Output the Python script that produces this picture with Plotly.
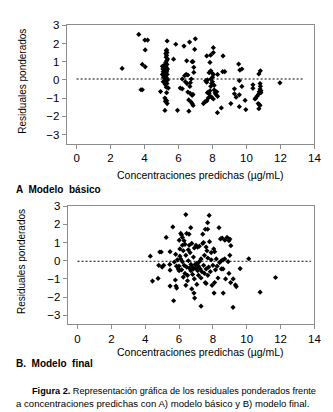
import plotly.graph_objects as go

# ---------------- data ----------------
top_x = [2.68, 3.66, 4.02, 4.18, 4.04, 3.87, 4.04, 3.79, 3.87,
         4.94, 5.05, 5.08, 5.10, 5.05, 5.12, 5.10, 5.15, 5.20, 5.18, 5.22, 5.20, 5.25, 5.22, 5.28, 5.30,
         5.20, 5.25, 5.30, 5.23, 5.33, 5.20,
         5.33, 5.30, 5.28, 5.32, 5.25, 5.30, 5.27, 5.35, 5.30, 5.25, 5.32, 5.28, 5.35, 5.30, 5.25, 5.33,
         5.30, 5.35, 5.28, 5.32, 5.40, 5.30, 5.22,
         5.71, 5.84, 5.94, 6.22, 6.22, 6.32, 6.36, 6.48, 6.55, 6.55, 6.65, 6.61, 6.80, 6.85, 6.90, 6.90,
         6.67, 6.80, 6.74, 6.86, 6.95, 6.99, 6.50, 6.40, 6.70, 6.85, 6.80, 6.60, 6.45, 6.75, 6.70, 6.10,
         7.66, 7.89, 8.05, 8.05, 7.85, 8.62, 8.72, 7.66, 7.47, 7.66, 8.29, 8.52,
         7.55, 7.65, 7.75, 7.70, 7.80, 7.85, 7.90, 7.95, 8.00, 7.90, 7.80, 7.90, 8.00, 8.05, 8.00, 8.10,
         8.10, 8.15, 8.20, 8.25, 8.30, 7.95, 8.05, 7.85, 8.30, 8.60, 7.60, 7.70,
         9.54, 9.61, 9.73, 10.73, 10.82, 11.97, 9.58, 10.38, 10.38, 10.80, 10.82, 10.80, 10.75, 10.70,
         10.62, 10.55, 10.50, 9.29, 9.73, 9.29, 9.39, 9.58, 9.08, 9.92, 9.58, 9.96, 10.69, 10.75, 10.80,
         10.73, 10.85, 10.85]
top_y = [0.63, 2.50, 2.19, 2.19, 1.65, 0.85, 0.72, -0.54, -0.54,
         -0.64, 0.75, 0.60, 0.45, 0.30, 0.15, -0.10, 0.80, 0.50, 0.35, 0.20, 0.05, -0.15, -0.25, -0.40, -0.70,
         -1.00, -1.10, -1.15, -1.18, -1.30, -1.68,
         2.14, 1.65, 1.60, 1.50, 1.45, 1.35, 1.25, 1.15, 1.05, 0.95, 0.85, 0.70, 0.60, 0.45, 0.40, 0.30,
         0.10, 0.00, -0.05, -0.20, -0.45, 0.55, 0.65,
         1.14, 1.96, -1.67, 0.05, -0.49, 1.86, 0.23, 1.05, 0.27, -0.67, 2.08, -1.72, 1.00, 1.00, 0.69, 0.41,
         -0.36, -0.85, -1.22, -1.40, 1.68, 2.26, -0.20, -0.10, -0.75, -0.80, -1.30, -1.10, 0.30, 0.05, -0.15, -0.45,
         1.32, 1.36, 1.77, 1.50, 0.96, 1.32, 0.45, -0.13, -1.30, -1.15, -1.80, -1.54,
         -1.20, -1.15, -1.00, -0.70, -0.75, -0.60, -0.35, -0.20, -0.10, 0.05, 0.40, 0.50, 0.35, 0.30, 0.15, -0.30,
         -0.55, -0.70, -0.80, -0.65, -0.90, -0.95, -1.05, -0.90, 0.30, 0.45, -0.05, 0.00,
         0.87, 0.54, 0.60, 0.33, 0.50, -0.16, -0.04, -0.27, -0.46, -0.20, -0.35, -0.50, -0.65, -0.80,
         -0.90, -1.00, -1.05, -0.49, -0.36, -0.76, -0.95, -0.82, -1.30, -1.12, -1.47, -1.63, -1.30, -1.36, -1.40,
         -1.58, -0.60, -0.70]

bot_x = [4.30, 4.43, 4.76, 4.86, 4.95, 4.80, 5.09, 5.00, 5.24, 5.47, 5.47, 5.47, 5.45, 5.63, 5.68, 5.72,
         5.78, 5.82, 5.86, 6.01, 6.05, 6.10, 6.15, 6.20, 6.40, 6.45, 6.59, 6.69,
         7.78, 7.69, 7.55, 7.69, 8.36, 7.40, 6.88, 6.92, 7.30, 8.07, 8.61, 9.19, 9.38, 9.33, 9.61, 10.12,
         10.79, 11.70, 9.06, 9.00, 8.84, 8.71, 8.95, 9.00, 8.90, 8.95, 9.05, 9.20, 8.75, 8.60, 8.50, 8.70,
         8.60, 8.30, 8.10,
         5.90, 5.95, 6.00, 6.05, 6.10, 6.15, 6.20, 6.25, 6.30, 6.35, 6.35, 6.40, 6.45, 6.50, 6.55, 6.55,
         6.60, 6.65, 6.70, 6.70, 6.75, 6.80, 6.85, 6.85, 6.90, 6.90, 6.95, 7.00, 7.00, 7.05, 7.10, 7.10,
         7.15, 7.20, 7.20, 7.25, 7.30, 7.30, 7.35, 7.40, 7.45, 7.50, 7.50, 7.55, 7.60, 7.65, 7.70, 7.70,
         7.75, 7.80, 7.85, 7.90, 7.95, 8.00, 8.05, 8.10, 8.15, 8.20, 6.20, 6.30, 6.60, 7.60, 7.45, 6.00,
         6.25, 6.50, 6.75, 6.40, 7.05, 7.60, 6.80, 7.15, 5.85, 5.80, 7.90, 8.25, 8.40, 8.45, 8.55, 8.50]
bot_y = [0.25, -1.12, -0.97, 0.48, 0.48, -0.25, -0.25, -0.35, 1.28, 0.50, -0.52, -1.39, -0.20, 1.86, -2.20, -0.07,
         -1.06, -1.39, -1.50, 1.13, 0.65, 1.50, 1.42, 1.28, 2.54, 1.50, 1.46, 1.82,
         2.49, 2.09, 1.73, 1.73, 1.82, 1.46, -1.78, -2.05, -2.50, -1.78, -1.78, -2.56, -1.42, -1.33, -0.43, 0.11,
         -1.73, -0.92, 0.83, 1.19, 1.28, 1.13, 1.10, 0.30, -0.05, -0.70, -1.20, -1.00, -1.00, -0.45, -0.45, 0.10,
         0.05, -0.95, -1.20,
         0.05, -0.45, -0.30, 0.25, 0.10, -0.50, -0.05, 0.55, -0.25, -0.70, 0.90, 0.30, -0.35, -0.80, 0.60, 0.00,
         -0.40, 0.45, -0.20, -0.55, 0.95, -0.35, 0.20, -0.45, -1.00, 0.70, -0.20, -0.40, 0.85, -0.15, -0.55, 0.75,
         -0.30, 0.80, -0.05, -0.45, 0.10, -0.95, -0.60, 0.95, -0.25, -0.70, 0.30, -1.20, -0.45, 0.55, -0.80, 0.15,
         -0.35, 1.05, -0.60, 0.05, -1.35, -0.25, 0.65, 0.50, -0.50, 0.10, 0.85, 1.10, 0.85, 0.75, 1.00, -0.55,
         -0.90, -1.10, -1.55, -1.35, -1.30, -1.25, -0.75, -0.80, -0.30, 0.35, 0.45, -0.30, -0.10, 1.20, 1.25, 0.00]

ref_top_x = [0, 13.35]
ref_top_y = [0.05, 0.05]
ref_bot_x = [0, 13.8]
ref_bot_y = [-0.03, -0.03]

x_ticks = [0, 2, 4, 6, 8, 10, 12, 14]
y_ticks = [-3, -2, -1, 0, 1, 2, 3]

x_title = "Concentraciones predichas (µg/mL)"
y_title = "Residuales ponderados"
label_a = "A  Modelo  básico"
label_b = "B.  Modelo  final"
caption1 = "<b>Figura 2.</b> Representación gráfica de los residuales ponderados frente"
caption2 = "a concentraciones predichas con A) modelo básico y B) modelo final."

# ---------------- figure ----------------
W, H = 333, 412
FONT = "Liberation Sans, Arial, sans-serif"


def px_x(p):
    return p / W


def px_y(p):
    return 1 - p / H


fig = go.Figure()
marker = dict(symbol="diamond", size=4, color="black")
dotline = dict(color="black", width=1, dash="2px,2px")
fig.add_trace(go.Scatter(x=ref_top_x, y=ref_top_y, mode="lines", line=dotline,
                         xaxis="x", yaxis="y", showlegend=False, hoverinfo="skip"))
fig.add_trace(go.Scatter(x=top_x, y=top_y, mode="markers", marker=marker,
                         xaxis="x", yaxis="y", showlegend=False))
fig.add_trace(go.Scatter(x=ref_bot_x, y=ref_bot_y, mode="lines", line=dotline,
                         xaxis="x2", yaxis="y2", showlegend=False, hoverinfo="skip"))
fig.add_trace(go.Scatter(x=bot_x, y=bot_y, mode="markers", marker=marker,
                         xaxis="x2", yaxis="y2", showlegend=False))

axcommon = dict(showgrid=False, zeroline=False, showline=True, linecolor="#8c8c8c", linewidth=1,
                mirror=True, ticks="outside", ticklen=4, tickcolor="#8c8c8c",
                tickfont=dict(family=FONT, size=11.5, color="black"))

fig.update_layout(
    width=W, height=H, margin=dict(l=0, r=0, t=0, b=0),
    paper_bgcolor="white", plot_bgcolor="white",
    xaxis=dict(axcommon, domain=[px_x(60), px_x(313)], range=[-0.58, 14], tickvals=x_ticks,
               anchor="y"),
    yaxis=dict(axcommon, domain=[px_y(131.5), px_y(11.5)], range=[-3.5, 3], tickvals=y_ticks,
               anchor="x"),
    xaxis2=dict(axcommon, domain=[px_x(61), px_x(313)], range=[-0.58, 14], tickvals=x_ticks,
                anchor="y2"),
    yaxis2=dict(axcommon, domain=[px_y(315), px_y(195)], range=[-3.5, 3], tickvals=y_ticks,
                anchor="x2"),
)

txt = dict(family=FONT, color="black")
ann = [
    dict(text=x_title, x=px_x(196.5), y=px_y(163), xanchor="center", yanchor="middle", size=10.5),
    dict(text=y_title, x=px_x(14), y=px_y(68), xanchor="center", yanchor="middle", textangle=-90, size=10),
    dict(text="<b>" + label_a + "</b>", x=px_x(6), y=px_y(178), xanchor="left", yanchor="middle", size=10),
    dict(text=x_title, x=px_x(196.5), y=px_y(343), xanchor="center", yanchor="middle", size=10.5),
    dict(text=y_title, x=px_x(14), y=px_y(251), xanchor="center", yanchor="middle", textangle=-90, size=10),
    dict(text="<b>" + label_b + "</b>", x=px_x(6), y=px_y(355), xanchor="left", yanchor="middle", size=10),
    dict(text=caption1, x=px_x(22), y=px_y(383), xanchor="left", yanchor="middle", size=9.2),
    dict(text=caption2, x=px_x(6), y=px_y(395), xanchor="left", yanchor="middle", size=9.6),
]
annotations = []
for a in ann:
    size = a.pop("size")
    annotations.append(dict(a, xref="paper", yref="paper", showarrow=False,
                            font=dict(txt, size=size)))
fig.update_layout(annotations=annotations)

fig.write_html("out.html")
